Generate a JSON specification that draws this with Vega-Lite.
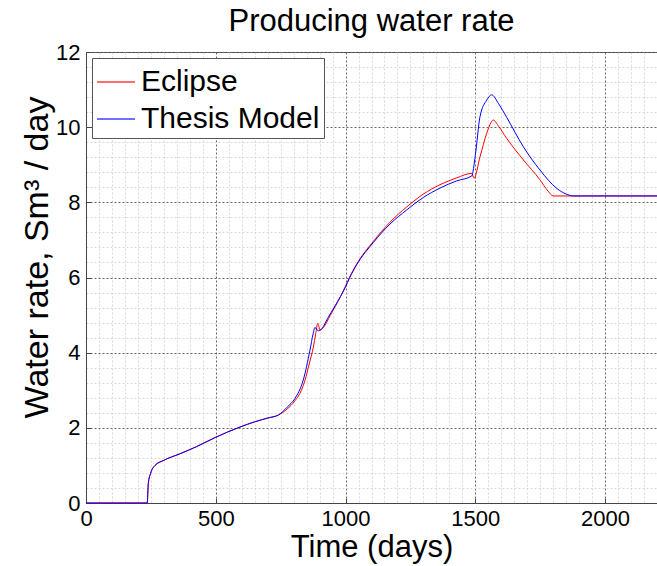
{
  "$schema": "https://vega.github.io/schema/vega-lite/v6.json",
  "width": 571,
  "height": 451,
  "autosize": {"type": "none"},
  "padding": {"left": 86, "top": 52, "right": 0, "bottom": 63},
  "title": {"text": "Producing water rate", "font": "Liberation Sans", "fontSize": 31, "fontWeight": "normal", "color": "black", "anchor": "middle", "offset": 3},
  "config": {
    "view": {"stroke": "#444", "strokeWidth": 1},
    "axis": {"labelFont": "Liberation Sans", "titleFont": "Liberation Sans", "labelColor": "black", "titleColor": "black", "labelFontSize": 22, "titleFontSize": 31, "titleFontWeight": "normal", "labelFlush": false, "labelOverlap": false}
  },
  "datasets": {
    "d": [
      {"model": "Eclipse", "t": 0, "rate": 0},
      {"model": "Eclipse", "t": 236, "rate": 0},
      {"model": "Eclipse", "t": 240, "rate": 0.52},
      {"model": "Eclipse", "t": 249, "rate": 0.79},
      {"model": "Eclipse", "t": 266, "rate": 1.0},
      {"model": "Eclipse", "t": 298, "rate": 1.13},
      {"model": "Eclipse", "t": 362, "rate": 1.31},
      {"model": "Eclipse", "t": 426, "rate": 1.5},
      {"model": "Eclipse", "t": 500, "rate": 1.75},
      {"model": "Eclipse", "t": 593, "rate": 2.02},
      {"model": "Eclipse", "t": 650, "rate": 2.16},
      {"model": "Eclipse", "t": 700, "rate": 2.26},
      {"model": "Eclipse", "t": 741, "rate": 2.34},
      {"model": "Eclipse", "t": 775, "rate": 2.5},
      {"model": "Eclipse", "t": 805, "rate": 2.72},
      {"model": "Eclipse", "t": 830, "rate": 3.0},
      {"model": "Eclipse", "t": 844, "rate": 3.27},
      {"model": "Eclipse", "t": 860, "rate": 3.7},
      {"model": "Eclipse", "t": 876, "rate": 4.15},
      {"model": "Eclipse", "t": 885, "rate": 4.5},
      {"model": "Eclipse", "t": 893, "rate": 4.78},
      {"model": "Eclipse", "t": 902, "rate": 4.6},
      {"model": "Eclipse", "t": 920, "rate": 4.72},
      {"model": "Eclipse", "t": 940, "rate": 4.98},
      {"model": "Eclipse", "t": 966, "rate": 5.3},
      {"model": "Eclipse", "t": 1000, "rate": 5.77},
      {"model": "Eclipse", "t": 1015, "rate": 6.0},
      {"model": "Eclipse", "t": 1043, "rate": 6.36},
      {"model": "Eclipse", "t": 1107, "rate": 6.96},
      {"model": "Eclipse", "t": 1171, "rate": 7.47},
      {"model": "Eclipse", "t": 1236, "rate": 7.88},
      {"model": "Eclipse", "t": 1300, "rate": 8.22},
      {"model": "Eclipse", "t": 1364, "rate": 8.47},
      {"model": "Eclipse", "t": 1428, "rate": 8.65},
      {"model": "Eclipse", "t": 1486, "rate": 8.77},
      {"model": "Eclipse", "t": 1495, "rate": 8.64},
      {"model": "Eclipse", "t": 1518, "rate": 9.21},
      {"model": "Eclipse", "t": 1544, "rate": 9.84},
      {"model": "Eclipse", "t": 1560, "rate": 10.12},
      {"model": "Eclipse", "t": 1569, "rate": 10.19},
      {"model": "Eclipse", "t": 1590, "rate": 10.02},
      {"model": "Eclipse", "t": 1621, "rate": 9.7},
      {"model": "Eclipse", "t": 1685, "rate": 9.13},
      {"model": "Eclipse", "t": 1749, "rate": 8.6},
      {"model": "Eclipse", "t": 1780, "rate": 8.3},
      {"model": "Eclipse", "t": 1800, "rate": 8.17},
      {"model": "Eclipse", "t": 2200, "rate": 8.17},
      {"model": "Thesis Model", "t": 0, "rate": 0},
      {"model": "Thesis Model", "t": 236, "rate": 0},
      {"model": "Thesis Model", "t": 240, "rate": 0.52},
      {"model": "Thesis Model", "t": 249, "rate": 0.79},
      {"model": "Thesis Model", "t": 266, "rate": 1.0},
      {"model": "Thesis Model", "t": 298, "rate": 1.13},
      {"model": "Thesis Model", "t": 362, "rate": 1.31},
      {"model": "Thesis Model", "t": 426, "rate": 1.5},
      {"model": "Thesis Model", "t": 500, "rate": 1.75},
      {"model": "Thesis Model", "t": 593, "rate": 2.02},
      {"model": "Thesis Model", "t": 650, "rate": 2.16},
      {"model": "Thesis Model", "t": 700, "rate": 2.26},
      {"model": "Thesis Model", "t": 741, "rate": 2.34},
      {"model": "Thesis Model", "t": 775, "rate": 2.55},
      {"model": "Thesis Model", "t": 805, "rate": 2.78},
      {"model": "Thesis Model", "t": 837, "rate": 3.27},
      {"model": "Thesis Model", "t": 863, "rate": 4.07},
      {"model": "Thesis Model", "t": 875, "rate": 4.5},
      {"model": "Thesis Model", "t": 882, "rate": 4.67},
      {"model": "Thesis Model", "t": 895, "rate": 4.58},
      {"model": "Thesis Model", "t": 910, "rate": 4.65},
      {"model": "Thesis Model", "t": 930, "rate": 4.9},
      {"model": "Thesis Model", "t": 960, "rate": 5.25},
      {"model": "Thesis Model", "t": 1000, "rate": 5.75},
      {"model": "Thesis Model", "t": 1015, "rate": 5.98},
      {"model": "Thesis Model", "t": 1043, "rate": 6.34},
      {"model": "Thesis Model", "t": 1107, "rate": 6.93},
      {"model": "Thesis Model", "t": 1171, "rate": 7.42},
      {"model": "Thesis Model", "t": 1236, "rate": 7.8},
      {"model": "Thesis Model", "t": 1300, "rate": 8.13},
      {"model": "Thesis Model", "t": 1364, "rate": 8.38},
      {"model": "Thesis Model", "t": 1428, "rate": 8.57},
      {"model": "Thesis Model", "t": 1486, "rate": 8.7},
      {"model": "Thesis Model", "t": 1500, "rate": 9.25},
      {"model": "Thesis Model", "t": 1518, "rate": 10.28},
      {"model": "Thesis Model", "t": 1544, "rate": 10.72},
      {"model": "Thesis Model", "t": 1563, "rate": 10.86},
      {"model": "Thesis Model", "t": 1590, "rate": 10.62},
      {"model": "Thesis Model", "t": 1621, "rate": 10.26},
      {"model": "Thesis Model", "t": 1685, "rate": 9.48},
      {"model": "Thesis Model", "t": 1749, "rate": 8.86},
      {"model": "Thesis Model", "t": 1814, "rate": 8.37},
      {"model": "Thesis Model", "t": 1850, "rate": 8.22},
      {"model": "Thesis Model", "t": 1877, "rate": 8.17},
      {"model": "Thesis Model", "t": 2200, "rate": 8.17}
    ]
  },
  "data": {"name": "d"},
  "layer": [
    {
      "mark": {"type": "line", "opacity": 0},
      "encoding": {
        "x": {"field": "t", "type": "quantitative", "scale": {"domain": [0, 2200], "nice": false},
          "axis": {"orient": "bottom", "values": [50,100,150,200,250,300,350,400,450,550,600,650,700,750,800,850,900,950,1050,1100,1150,1200,1250,1300,1350,1400,1450,1550,1600,1650,1700,1750,1800,1850,1900,1950,2050,2100,2150], "grid": true, "gridColor": "#d8d8d8", "gridDash": [2, 2], "gridWidth": 1, "labels": false, "ticks": false, "domain": false, "title": null}},
        "y": {"field": "rate", "type": "quantitative", "scale": {"domain": [0, 12], "nice": false},
          "axis": {"orient": "left", "values": [0.4,0.8,1.2,1.6,2.4,2.8,3.2,3.6,4.4,4.8,5.2,5.6,6.4,6.8,7.2,7.6,8.4,8.8,9.2,9.6,10.4,10.8,11.2,11.6], "grid": true, "gridColor": "#d8d8d8", "gridDash": [2, 2], "gridWidth": 1, "labels": false, "ticks": false, "domain": false, "title": null}},
        "detail": {"field": "model"}
      }
    },
    {
      "mark": {"type": "line", "strokeWidth": 1, "interpolate": "monotone"},
      "encoding": {
        "x": {"field": "t", "type": "quantitative",
          "axis": {"orient": "bottom", "values": [0, 500, 1000, 1500, 2000], "format": "d", "grid": true, "gridColor": "#666", "gridDash": [2, 2], "gridWidth": 1, "domainColor": "#444", "tickColor": "#444", "tickSize": -5, "labelPadding": 10, "title": "Time (days)", "titleBaseline": "alphabetic", "titleY": 53}},
        "y": {"field": "rate", "type": "quantitative",
          "axis": {"orient": "left", "values": [0, 2, 4, 6, 8, 10, 12], "format": "d", "grid": true, "gridColor": "#666", "gridDash": [2, 2], "gridWidth": 1, "domainColor": "#444", "tickColor": "#444", "tickSize": -5, "labelPadding": 11, "title": "Water rate, Sm³ / day", "titleFontSize": 34, "titleBaseline": "alphabetic", "titleAngle": -90, "titleX": -39, "titleY": 205, "titleAlign": "center"}},
        "color": {"field": "model", "type": "nominal", "scale": {"domain": ["Eclipse", "Thesis Model"], "range": ["#ff0000", "#0000ff"]},
          "legend": {"title": null, "orient": "none", "legendX": 6, "legendY": 6, "symbolType": "stroke", "symbolSize": 1444, "symbolStrokeWidth": 1.5, "labelFont": "Liberation Sans", "labelFontSize": 30, "labelColor": "black", "labelOffset": 5, "labelLimit": 0, "rowPadding": 2, "padding": 4, "strokeColor": "#555", "fillColor": "white", "cornerRadius": 0,
            "encode": {"symbols": {"update": {"stroke": {"scale": "color", "field": "value"}, "opacity": {"value": 0.75}}}}}}
      }
    }
  ],
  "resolve": {"axis": {"x": "independent", "y": "independent"}}
}
